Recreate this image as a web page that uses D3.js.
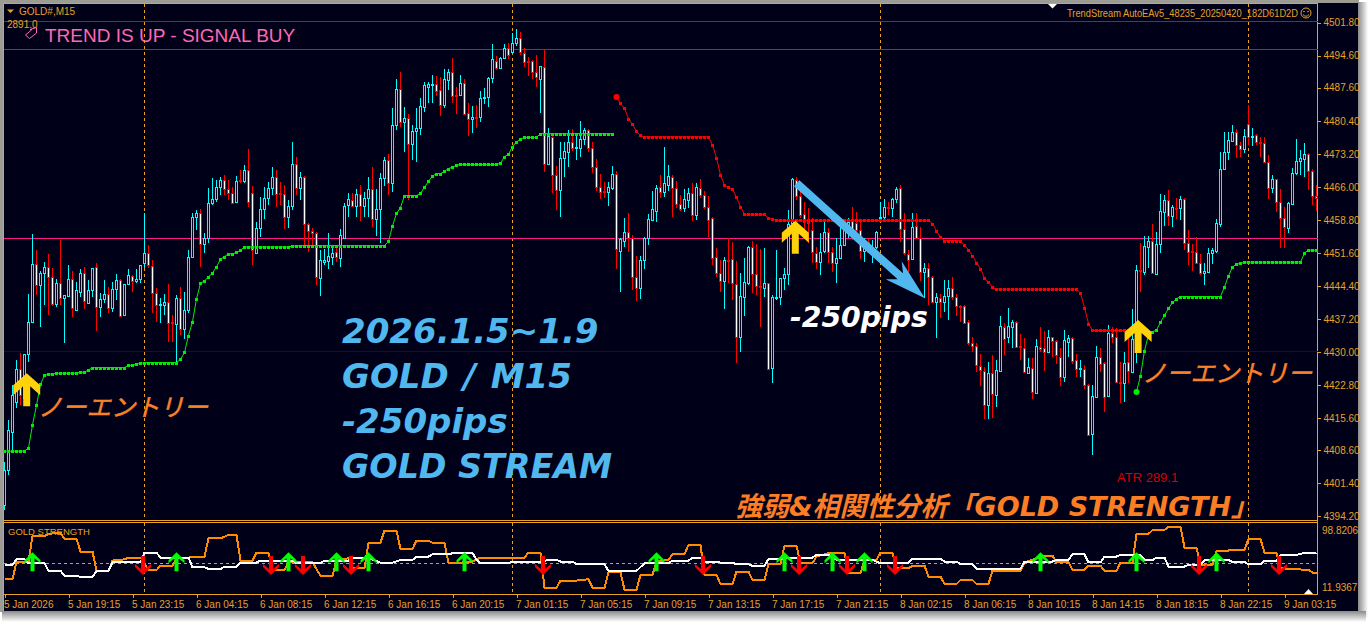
<!DOCTYPE html>
<html>
<head>
<meta charset="utf-8">
<script src="https://cdn.jsdelivr.net/npm/d3@7"></script>
<style>
html, body { margin: 0; padding: 0; background: #fff; overflow: hidden; }
svg { display: block; }
</style>
</head>
<body>
<script>
// candle values, one entry per M15 bar
var opens = [4396.6,4404.3,4412.6,4419.1,4426.3,4420,4429.6,4436.5,4449.2,4444.6,4447.2,4448.5,4446.3,4440.5,4445,4441.8,4442.2,4445.9,4439.2,4443.1,4447.2,4440.7,4443.5,4448.5,4439.8,4441.5,4442.6,4439.6,4443.7,4445.7,4438,4444.8,4446.6,4445.5,4445.9,4449.4,4451.6,4448.7,4442.9,4440.2,4440.2,4440.9,4436.5,4436.1,4441.8,4435,4439.2,4450.7,4459.4,4460.3,4453.5,4454.8,4462.5,4463.4,4466,4467.5,4465.5,4464.7,4462.7,4467.5,4467.3,4469.7,4464.7,4451.6,4457,4461.2,4463.6,4465.8,4468.2,4464.7,4464.5,4459.4,4461.8,4471,4465.8,4468.2,4457.9,4456.4,4455.9,4446.1,4449.6,4449.8,4450.7,4451.8,4450.5,
4454.8,4462,4463.1,4461.8,4464.4,4461.8,4463.6,4465.5,4459,4461.2,
4467.9,4471.8,4466.8,4479.5,4487.3,4480.1,4481,4475.3,4478.2,4478.8,
4483.4,4487.7,4488.2,4488.4,4487.1,4483.8,4489.3,4491,4486,4486,
4488.6,4482.1,4480.8,4481.2,4481.2,4485.4,4485.6,4489.7,4493.4,4491.9,
4494.1,4496.2,4495.4,4497.3,4498.4,4495.2,4493.4,4493.4,4491,4489.5,
4492.1,4470.9,4476.8,4468.6,4465.3,4472.3,4473.6,4475.7,4474.4,4474.4,
4476.4,4478.4,4474.4,4470.3,4465.9,4465.1,4464.8,4465.7,4468.8,4452,
4454.2,4456.1,4454.8,4446.3,4443.9,4450,4454.8,4458.8,4460.7,4465.9,
4464.8,4466.4,4468.1,4465.7,4462.2,4461.4,4463.1,4464.6,4459.8,4465.7,
4464.2,4461.6,4459.2,4450.7,4447.2,4445.4,4450,4450.2,4444.8,4433.2,
4442,4445,4452.9,4447,4444.4,4443.9,4445,4426.5,4441.8,4442,
4446.1,4447,4458.1,4467.5,4464,4460.1,4458.3,4456.6,4451.6,4449.6,
4452,4456.1,4451.8,4449.4,4450.5,4453.3,4456.6,4458.8,4458.1,4456.6,
4452,4453.9,4451.8,4452.9,4459.2,4459.4,4461.6,4461.4,4463.3,4465.7,
4456.8,4451.4,4450.2,4457.4,4454.8,4447.4,4448.3,4446.3,4440.9,4441.8,
4440.9,4442.2,4443.9,4442,4440,4440,4436.5,4431.9,4431.3,4426.9,
4425.8,4418.4,4425.4,4420.6,4425.8,4435.4,4433.3,4435.4,4436.5,4431.3,
4430.8,4425.4,4426.5,4421,4431.1,4430.8,4430,4433.3,4432.4,4428.9,
4424.5,4432.2,4433,4428.2,4426.3,4426.3,4422.8,4412.1,4420.2,4428.9,
4427.6,4420.4,4434.1,4433.3,4423.4,4423.2,4427.8,4425.6,4432.8,4447.9,
4447.4,4452.9,4454.2,4447,4453.5,4460.5,4463.1,4459.6,4461.4,4461.4,
4463.3,4453.7,4452,4451.8,4449.4,4447.2,4447.4,4451.6,4452,4457.9,
4469.9,4473.6,4476,4477.9,4475.1,4474.2,4479.7,4476.8,4477.3,4475.8,
4475.5,4471.4,4465.7,4467.7,4462.7,4459.2,4457,4462.2,4469,4471.6,
4472.1,4473.2,4469.4,4464];
var highs = [4406,4415.1,4422.8,4428.2,4429.7,4429.5,4442.6,4455.7,4452.2,4447.6,4449.6,4451.3,4448.3,4445.9,4454.4,4442.4,4448.9,4447.6,4445.2,4448.1,4448.5,4445.7,4448.3,4449.4,4442.8,4445.7,4444.1,4445.2,4447,4445.9,4444.8,4448.1,4446.8,4448.1,4449,4460.3,4453.3,4450,4443.9,4441.8,4442.6,4444.8,4438,4442.4,4444.2,4443.1,4452.2,4460.3,4460.9,4461.1,4455.9,4465.8,4467.9,4467.5,4468.1,4468.6,4467.5,4465.9,4468.4,4469.7,4470.8,4474.2,4466.2,4458.3,4463.8,4465.9,4467,4470.3,4469.7,4467,4466.4,4463.1,4475.8,4472.5,4469.2,4468.4,4458.1,4457,4456.2,4452.2,4452.4,4455.9,4453.3,4453.1,4456.8,
4462.5,4464.7,4464.7,4465.5,4466.4,4464.9,4468.2,4470.3,4465.5,4469,
4472.5,4473.2,4483.2,4489.5,4491,4483.4,4481.9,4479.5,4483.2,4485.4,
4488.9,4488.9,4490.4,4490.2,4489.9,4491.7,4491.7,4494.1,4487.7,4490.4,
4489.5,4484.3,4483.6,4483.8,4486.9,4487.5,4489.9,4497.1,4494.5,4494.3,
4497.1,4497.3,4499.5,4500.4,4499.7,4496.2,4494.3,4493.6,4494.7,4492.3,
4496,4478.8,4477.7,4470.5,4475.7,4475.7,4478.4,4478.6,4477,4480.3,
4478.8,4478.6,4475.7,4472,4468.8,4467,4467,4470.5,4469.4,4454.8,
4459.2,4460.3,4455.5,4450.9,4450.9,4455,4460,4465.1,4466.4,4468.6,
4474.7,4470.7,4468.6,4467.2,4464.2,4465.5,4465.7,4466.8,4466.8,4467.7,
4465.1,4464,4459.4,4452.6,4450,4450.7,4454.8,4453.9,4449.8,4447.2,
4450.5,4453.1,4454.2,4453.5,4452.4,4452.6,4445,4442.4,4452.2,4446.1,
4448.3,4460.9,4467.9,4468.1,4465.3,4462.7,4461.4,4459.2,4452.9,4455.9,
4458.8,4457,4452.9,4454.8,4457.7,4458.8,4459.2,4461.6,4460.5,4458.8,
4454.8,4454.8,4454.4,4456.3,4462.7,4463.3,4462.7,4463.6,4465.9,4466.4,
4460.3,4452.2,4460.3,4460.3,4457.2,4449.4,4449.4,4446.5,4442.8,4442.6,
4445.7,4445.7,4446.3,4442.6,4440.2,4440.2,4436.9,4433.2,4431.9,4429.5,
4426.7,4427.8,4429.3,4428.2,4437.8,4436.3,4439.6,4436.9,4436.7,4433.9,
4433,4428.7,4428.7,4432.8,4435.4,4434.5,4434.8,4433.3,4432.6,4430.8,
4434.8,4433.7,4433.3,4429.5,4428.2,4427.1,4423,4422.8,4431.3,4430.8,
4427.8,4435.9,4435.4,4435.2,4427.8,4430,4433.7,4439.3,4449,4453.7,
4455.3,4455.3,4457.9,4456.1,4464.4,4464.2,4465.3,4462,4463.5,4464,
4463.5,4456.6,4453.5,4455,4451.3,4449.4,4452.6,4452.6,4459,4473.6,
4477.9,4477.9,4479.4,4478.6,4475.8,4478.6,4483.8,4478.8,4477.5,4476.8,
4476.8,4472.9,4468.6,4467.7,4465.5,4461.6,4462.7,4470.1,4476.4,4474,
4475.5,4473.4,4469.9,4466.4];
var lows = [4395.5,4403.2,4408.6,4417.8,4418.4,4418.8,4427.8,4436.5,4442.4,4435.4,4440.2,4438,4440,4439.8,4440.2,4431.9,4442,4437.6,4438.9,4442,4439.4,4440.7,4442,4434.6,4437.6,4440.7,4438.5,4438.7,4441.3,4437.6,4438,4444.6,4443.1,4445,4445,4448.3,4448.3,4438.5,4436.5,4436.3,4438,4432.2,4432.2,4427.6,4433.7,4432.8,4438.5,4450.5,4456.6,4448.5,4451.6,4453.8,4462,4462.7,4464.2,4464.2,4463.1,4462.3,4462.5,4466.8,4466.8,4461.6,4449,4451.6,4455,4459,4462,4464.2,4461.6,4462,4456.8,4457,4461,4464.2,4463.1,4453.3,4451.8,4452.9,4444.6,4442.2,4448.9,4448.1,4448.9,4449.6,4448.5,
4454.8,4459.4,4461.6,4459.4,4458.5,4459.4,4459.4,4457.2,4455.3,4453.8,
4466.2,4464.2,4464.9,4478.4,4479,4473.6,4463.1,4471.8,4471.4,4477.3,
4482.3,4484.3,4484.3,4485.8,4481.4,4483.2,4487.1,4484.3,4481.9,4485.8,
4481.6,4477.1,4477.7,4478.8,4480.1,4484,4483.4,4488.6,4491.4,4491.7,
4493.8,4493.8,4495.4,4496.7,4494.7,4492.1,4490.1,4489.5,4487.7,4482.1,
4469.2,4470.7,4464.6,4460.9,4459.4,4468.1,4470.3,4473.8,4471.8,4472.5,
4475.1,4473.6,4469,4465.1,4463.3,4463.5,4461.8,4465.3,4448.1,4443.1,
4452.9,4451.8,4443.5,4441.1,4441.5,4448.1,4453.3,4458.5,4458.3,4463.5,
4463.8,4465.1,4459.4,4461.4,4460.7,4460.5,4461.4,4458.5,4458.8,4463.6,
4461.1,4455,4449,4446.3,4443.1,4439.3,4445,4441.3,4427.6,4430,
4437.8,4444.6,4442.8,4442.4,4435.4,4442,4426.3,4423.2,4441.3,4440.2,
4443.5,4444.6,4456.6,4463.1,4459.2,4456.1,4453.8,4449.4,4448.1,4446.8,
4451.6,4449.4,4447.4,4445,4450.2,4453.1,4454.8,4454.4,4455,4450.2,
4449.6,4451.6,4449.4,4452.4,4458.3,4458.8,4459.8,4459.4,4462.4,4454,
4451.1,4445.2,4450,4454.8,4445.4,4441.7,4440.2,4440.6,4433,4437.4,
4438.7,4437,4441.3,4437.8,4436.5,4436.3,4431.5,4430,4425.6,4422.6,
4415.4,4415.4,4415.6,4418,4425.8,4429.3,4431.9,4430.8,4430.8,4428.2,
4425.4,4425.2,4419.7,4420.8,4430,4425.8,4429.8,4428.9,4427.4,4422.6,
4423.4,4428.9,4427.4,4424.5,4424.5,4421.9,4411.7,4407.5,4420.2,4425.6,
4416.9,4420.2,4431.9,4423.2,4418.8,4419,4423.2,4425.4,4427.6,4443.1,
4446.8,4448.3,4447,4446.8,4451.6,4457.4,4457.4,4457.2,4459,4458.8,
4452.2,4448.9,4447.6,4449.2,4446.8,4444.6,4447.4,4449.2,4451.6,4457.2,
4469.6,4471.8,4476,4472.3,4472.5,4473.3,4475.1,4474.9,4475.1,4472.5,
4471.4,4463.3,4464.6,4460.5,4452.7,4452.7,4455.9,4462,4468.6,4468.6,
4468.1,4465.3,4462,4460.7];
var closes = [4404.3,4413,4420.6,4426.3,4420.6,4429.6,4436.5,4449.2,4444.6,4447.2,4448.5,4446.3,4440.5,4445,4441.8,4442.4,4445.9,4439.6,4443.5,4447.2,4441.1,4443.5,4448.3,4439.8,4441.5,4442.6,4439.6,4443.7,4445.7,4437.8,4444.8,4446.8,4445.5,4445.9,4449,4451.6,4449,4442.9,4440.2,4440.5,4440.9,4436.3,4436.3,4441.8,4435,4439.2,4450.7,4459.4,4460.3,4453.5,4454.8,4462.5,4463.4,4466,4467.5,4465.5,4464.7,4462.5,4467.3,4467.3,4469.7,4462.7,4452.2,4457,4461.2,4463.6,4465.8,4468.2,4464.5,4464.6,4459.4,4461.8,4471,4465.8,4468.2,4457.9,4456.4,4455.9,4446.3,4450,4450,4450.9,4451.6,4450.7,4455.5,
4461.8,4463.3,4461.8,4464.4,4461.8,4463.6,4465.5,4459,4461.2,4467.9,
4471.8,4466.8,4479.5,4487.3,4480.1,4481,4475.3,4478.2,4478.8,4483.6,
4488.2,4488.4,4488.4,4486.9,4483.8,4489.5,4491,4485.8,4485.8,4488.6,
4481.9,4480.8,4481.2,4481,4485.4,4485.6,4489.7,4493.8,4491.9,4494.1,
4496.2,4494.7,4497.3,4498.4,4495.4,4493.2,4493.2,4491,4489.9,4492.3,
4470.9,4477.1,4468.6,4465.3,4472.3,4473.8,4475.7,4474.4,4474.6,4476.4,
4478.4,4474.4,4470.3,4465.9,4464.8,4464.8,4465.9,4468.8,4452.4,4454.6,
4456.1,4454.8,4446.3,4443.9,4450,4454.8,4459,4461.2,4465.7,4464.8,
4466.8,4468.3,4465.7,4462.2,4461.1,4463.3,4464.6,4459.8,4465.9,4464.2,
4461.6,4458.8,4450.5,4447.2,4445.4,4450,4449.8,4445,4433.2,4442.2,
4445.2,4452.9,4447,4444.4,4444.1,4445,4426.3,4442,4442,4446.1,
4447,4457.9,4467.7,4464,4459.9,4458.3,4458.1,4451.8,4449.6,4451.8,
4456.1,4451.8,4449.4,4450.5,4453.3,4456.6,4458.3,4456.8,4456.6,4452,
4452.6,4451.8,4452.9,4456.1,4459.4,4461.6,4461.4,4463.3,4465.5,4456.8,
4451.6,4450.2,4457.2,4454.8,4447.4,4448.3,4446.3,4440.9,4442,4440.9,
4442.2,4443.9,4442,4440,4439.8,4436.3,4431.9,4431.3,4427.1,4426,
4418.4,4425.4,4420.8,4426,4435.7,4432.8,4435.7,4436.5,4431.1,4431.1,
4425.6,4426.7,4421.2,4431.3,4430.6,4430,4433.3,4432.4,4429.3,4424.5,
4432.6,4433,4428,4426.3,4426.5,4422.8,4411.9,4420.4,4428.9,4427.4,
4420.2,4434.1,4433.3,4423.4,4423.2,4427.6,4425.8,4432.8,4447.9,4447.7,
4453.1,4454.2,4447.2,4453.5,4460.7,4463.1,4459.6,4461.6,4461.2,4463.3,
4453.7,4451.8,4451.8,4449.4,4447.2,4447.6,4451.6,4452.2,4458.1,4469.9,
4473.6,4476.2,4477.9,4475.1,4474.2,4477.1,4476.8,4477.1,4475.8,4475.5,
4471.4,4465.7,4467.7,4462.7,4459.2,4457.2,4462.4,4469,4471.6,4472.3,
4473.2,4469.4,4464,4463.5];

// trend stop dots
var greenStopA = [4408.4,4408.4,4408.4,4408.4,4408.4,4408.4,4409.1,4414.1,4418.4,4423,4424.9,4425.2,4425.2,4425.4,4425.4,4425.4,4425.4,4425.4,4425.4,4425.6,4425.6,4426.1,4426.6,4426.6,4426.6,4426.6,4426.6,4426.6,4426.6,4426.6,4426.6,4427.1,4427.1,4427.4,4427.5,4427.7,4427.7,4427.7,4427.7,4427.7,4427.7,4427.7,4427.7,4427.7,4428.4,4429.9,4433.6,4436.6,4441.6,4445,4445.5,4446.4,4447.2,4448.6,4450.2,4450.8,4451.4,4451.4,4451.7,4452.2,4452.9,4452.9,4452.9,4452.9,4452.9,4452.9,4452.9,4452.9,4452.9,4452.9,4452.9,4452.9,4453.1,4453.1,4453.2,4453.2,4453.2,4453.2,4453.2,4453.2,4453.2,4453.2,4453.2,4453.2,4453.2,4453.2,4453.2,4453.2,4453.2,4453.2,4453.2,4453.2,4453.2,4453.2,4453.2,4453.2,4454.1,4457.5,4460.2,4461.5,4464.1,4464.1,4464.1,4464.1,4464.6,4465.9,4467.2,4468.4,4468.9,4468.9,4469.4,4470,4470.3,4470.7,4470.9,4470.9,4470.9,4470.9,4470.9,4470.9,4470.9,4470.9,4470.9,4470.9,4471.1,4472.6,4473.1,4474.8,4475.8,4476.4,4476.8,4476.8,4476.8,4476.8,4477.6,4477.6,4477.6,4477.6,4477.6,4477.6,4477.6,4477.6,4477.6,4477.6,4477.6,4477.6,4477.6,4477.6,4477.6,4477.6,4477.6,4477.6,4477.6];
var greenStopAStart = 0;
var redStop = [4485.6,4484.2,4483.1,4480.9,4479.6,4478.1,4477.2,4476.9,4476.9,4476.9,4476.9,4476.9,4476.9,4476.9,4476.9,4476.9,4476.9,4476.9,4476.9,4476.9,4476.9,4476.9,4476.9,4476.9,4475.1,4472.3,4468.6,4466.4,4465.9,4465.5,4463.7,4461.7,4460,4460,4460,4460,4460,4460,4459.2,4458.9,4458.7,4458.7,4458.7,4458.7,4458.7,4458.7,4458.7,4458.7,4458.7,4458.7,4458.7,4458.7,4458.7,4458.7,4458.7,4458.7,4458.7,4458.7,4458.7,4458.7,4458.7,4458.7,4458.7,4458.7,4458.7,4458.7,4458.7,4458.7,4458.7,4458.7,4458.7,4458.7,4458.7,4458.7,4458.7,4458.7,4458.7,4458.7,4458.7,4458,4456.4,4455,4454.3,4454.3,4454.3,4454.3,4454.2,4453.3,4452.2,4451,4449.5,4448.2,4446.1,4445.2,4444.1,4443.7,4443.7,4443.7,4443.7,4443.7,4443.7,4443.7,4443.7,4443.7,4443.7,4443.7,4443.7,4443.7,4443.7,4443.7,4443.7,4443.7,4443.7,4443.7,4443.7,4443.7,4442.8,4439.7,4436.2,4434.7,4434.7,4434.7,4434.7,4434.7,4434.7,4434.7,4434.7,4434.7,4434.7];
var redStopStart = 153;
var greenStopB = [4421.3,4424.8,4430.3,4433.7,4434.4,4434.8,4436.5,4438,4439.5,4440.8,4441.6,4442.1,4442.1,4442.1,4442.1,4442.1,4442.1,4442.1,4442.1,4442.1,4442.1,4442.1,4444.2,4446.6,4448.5,4449.2,4449.3,4449.6,4449.6,4449.6,4449.6,4449.6,4449.6,4449.6,4449.6,4449.6,4449.6,4449.6,4449.6,4449.6,4449.6,4449.6,4451.6,4452.2,4452.2,4452.2];
var greenStopBStart = 283;

// horizontal levels on the price pane
var levelPrices = [4502.16, 4496.06, 4454.86, 4430.22];
var levelColors = ["#e00000", "#0b7a0b", "#ff1a8c", "#0000c0"];
var separatorBars = [35, 127, 219, 311];

// buy arrows on the chart (bar, price of the tip) and the blue move arrow
var buyBars = [5.55, 197.7, 283.4];
var buyPrices = [4425.4, 4458.6, 4437];
var moveBars = [198.05, 230.1];
var movePrices = [4466.8, 4441.7];

// price axis labels
var priceTicks = [4501.8,4494.6,4487.6,4480.4,4473.2,4466,4458.8,4451.6,4444.4,4437.2,4430,4422.8,4415.6,4408.6,4401.4,4394.2];

// time axis
var timeBars = [0,16,32,48,64,80,96,112,128,144,160,176,192,208,224,240,256,272,288,304,320];
var timeLabels = ["5 Jan 2026","5 Jan 19:15","5 Jan 23:15","6 Jan 04:15","6 Jan 08:15","6 Jan 12:15","6 Jan 16:15","6 Jan 20:15","7 Jan 01:15","7 Jan 05:15","7 Jan 09:15","7 Jan 13:15","7 Jan 17:15","7 Jan 21:15","8 Jan 02:15","8 Jan 06:15","8 Jan 10:15","8 Jan 14:15","8 Jan 18:15","8 Jan 22:15","9 Jan 03:15"];

// GOLD STRENGTH pane, change points of the two lines
var orangeBars = [0,2,3,6,7,10,11,14,15,18,19,22,23,26,27,30,31,34,36,38,39,42,43,50,51,54,56,58,59,62,63,66,67,70,71,77,79,82,83,86,87,90,91,94,95,98,99,102,103,106,107,110,111,114,117,119,130,131,134,135,138,139,143,146,147,150,151,154,155,158,159,162,163,166,167,170,171,174,175,178,179,182,183,186,187,190,191,194,195,198,199,202,203,206,210,211,214,215,218,219,222,223,226,227,229,230,231,234,235,238,239,242,243,246,247,254,255,260,262,263,266,267,270,271,274,275,278,279,282,283,286,287,290,291,294,295,298,299,302,303,310,311,314,315,318,319,326,327,328];
var orangeValues = [30.6,30.6,51.3,51.3,84,84,86.5,88.1,80.3,80.3,64.6,64.6,40.6,40.6,53.4,55,57.1,57.1,41.8,41.8,46.8,46.8,56.3,58.4,81.1,81.1,85.2,85.2,53.4,53.4,63.3,63.3,41.8,41.8,51.3,51.3,34.4,34.4,54.2,56.3,43.9,43.9,75.7,75.7,90.6,90.6,67.9,67.9,78.2,78.2,75.7,75.7,50.9,50.9,52.2,57.1,57.1,63.3,63.3,19.9,19.9,28.6,28.6,30.2,19.9,19.9,38.9,38.9,17,17,35.6,35.6,52.2,54.2,61.3,61.3,72.8,72.8,35.6,35.6,24.4,24.4,39.7,39.7,29.4,29.4,49.3,49.3,71.6,71.6,50.1,50.1,58.4,62.5,62.5,37.7,37.7,54.2,54.2,63.3,63.3,43.9,43.9,46.8,46.8,47.2,33.5,33.5,24.4,24.4,29.4,29.4,24.4,24.4,41,41,51.3,59.6,59.6,51.3,51.3,41.8,41.8,47.2,47.2,40.6,40.6,50.9,50.9,86.5,86.5,91.4,91.4,95.6,95.6,69.5,69.5,48,48,65.4,66.6,80.3,80.3,63.3,63.3,43.9,41.8,38.5,38.5];
var whiteBars = [0,2,3,5,6,10,11,14,15,18,19,22,23,26,27,34,35,38,39,46,47,50,51,54,55,58,59,63,64,72,73,79,80,86,87,91,94,97,99,102,103,106,107,111,112,117,118,119,126,127,134,136,138,139,142,143,150,151,158,160,166,167,171,172,174,175,178,179,182,183,186,187,190,191,194,196,202,203,206,208,217,219,222,223,226,227,234,235,238,239,242,243,254,255,262,263,266,267,270,271,274,275,278,279,284,285,287,288,290,291,295,296,299,300,306,307,310,311,314,315,318,319,323,324,328];
var whiteValues = [48,48,55.5,55.5,50.1,50.1,41,41,34.4,34.4,33.1,33.1,40.6,40.6,51.3,51.3,63.3,63.3,57.1,57.1,45.1,45.1,43,43,46,46,50.9,50.9,53.4,53.4,50.1,50.1,53.4,53.4,56.3,56.3,50.9,50.9,54.2,54.2,58.4,58.4,61.3,61.3,62.5,62.5,55,50.1,50.1,52.2,52.2,54.2,54.2,52.2,52.2,48.8,48.8,40.6,40.6,50.1,50.1,53.4,53.4,57.1,57.1,52.2,52.2,50.9,50.9,48.8,48.8,46.8,46.8,55.5,55.5,57.1,57.1,60.4,60.4,54.2,54.2,50.1,50.1,50.9,50.9,55.5,55.5,52.2,52.2,48.8,48.8,43,43,52.2,52.2,54.2,54.2,61.3,61.3,51.3,51.3,58.4,58.4,60.4,60.4,54.2,54.2,57.1,57.1,46,46,48,48,54.2,54.2,51.8,51.8,48.8,48.8,53.4,53.4,60.4,60.4,62.1,63.3];
var strengthMiddle = 50;
var strengthTicks = [98.8206, 11.9367];

// signal arrows in the strength pane
var upSignalBars = [7,43,71,83,91,115,163,195,207,215,259,283,303];
var downSignalBars = [35,67,75,87,135,175,199,211,223,299,319];
var upSignalLevel = 63.8;
var downSignalLevel = 35.6;

// Width and height
var w = 1368, h = 622;
var paneLeft = 4, paneRight = 1317.5, paneBottom = 611, frameRight = 1358;
var border = "#e6a326";

var x = d3.scaleLinear().domain([0, 328]).range([4.5, 1316.5]);
var y = d3.scaleLinear().domain([4394.04, 4501.94]).range([517, 22]);
var ys = d3.scaleLinear().domain([11.9367, 98.8206]).range([594, 524]);

var svg = d3.select("body").append("svg").attr("width", w).attr("height", h);

// window frame and drop shadow
var defs = svg.append("defs");
var gr = defs.append("linearGradient").attr("id", "shadowR");
gr.append("stop").attr("offset", "0").attr("stop-color", "#8a8a8a");
gr.append("stop").attr("offset", "1").attr("stop-color", "#ffffff");
var gb = defs.append("linearGradient").attr("id", "shadowB").attr("x2", 0).attr("y2", 1);
gb.append("stop").attr("offset", "0").attr("stop-color", "#8a8a8a");
gb.append("stop").attr("offset", "1").attr("stop-color", "#ffffff");

svg.append("rect").attr("x", 0).attr("y", 0).attr("width", frameRight + 1).attr("height", paneBottom + 1).attr("fill", "#9c9c94");
svg.append("rect").attr("x", frameRight).attr("y", 2).attr("width", w - frameRight).attr("height", paneBottom + 4).attr("fill", "url(#shadowR)");
svg.append("rect").attr("x", 2).attr("y", paneBottom).attr("width", frameRight + 6).attr("height", h - paneBottom).attr("fill", "url(#shadowB)");
svg.append("rect").attr("x", 3).attr("y", 3).attr("width", frameRight - 3).attr("height", paneBottom - 3).attr("fill", "#000018");

var crisp = svg.append("g").attr("shape-rendering", "crispEdges");

// borders
crisp.append("path").attr("fill", "none").attr("stroke", border)
    .attr("d", "M3.5,611V3.5H1317.5V594.5H3.5 M3.5,520.5H1317.5 M3.5,522.5H1317.5");

// period separators, both panes
crisp.selectAll(".sep1").data(separatorBars).enter().append("line")
    .attr("x1", d => x(d)).attr("x2", d => x(d)).attr("y1", 4).attr("y2", 520)
    .attr("stroke", border).attr("stroke-dasharray", "3,3");
crisp.selectAll(".sep2").data(separatorBars).enter().append("line")
    .attr("x1", d => x(d)).attr("x2", d => x(d)).attr("y1", 523).attr("y2", 594)
    .attr("stroke", border).attr("stroke-dasharray", "3,3");

// levels
var snap = v => Math.round(v) + 0.5;
crisp.selectAll(".lvl").data(levelPrices).enter().append("line")
    .attr("x1", paneLeft).attr("x2", paneRight)
    .attr("y1", d => snap(y(d))).attr("y2", d => snap(y(d)))
    .attr("stroke", (d, i) => levelColors[i]);

// candles
var bars = d3.range(opens.length);
var upColor = "#00ffff", downColor = "#ff0000";

crisp.selectAll(".wick").data(bars).enter().append("line")
    .attr("x1", i => x(i)).attr("x2", i => x(i))
    .attr("y1", i => y(highs[i])).attr("y2", i => y(lows[i]))
    .attr("stroke", i => closes[i] >= opens[i] ? upColor : downColor);

crisp.selectAll(".body").data(bars).enter().append("rect")
    .attr("x", i => x(i) - 1)
    .attr("width", 2)
    .attr("y", i => snap(y(Math.max(opens[i], closes[i]))))
    .attr("height", i => Math.max(1, Math.round(y(Math.min(opens[i], closes[i])) - y(Math.max(opens[i], closes[i])))))
    .attr("fill", i => closes[i] >= opens[i] ? "#000018" : "#ffffff")
    .attr("stroke", i => closes[i] >= opens[i] ? upColor : downColor);

// trend stops
function drawStops(values, start, color) {
    var line = d3.line().x((d, i) => x(start + i)).y(d => y(d));
    svg.append("path").attr("d", line(values)).attr("fill", "none").attr("stroke", color).attr("stroke-width", 1);
    svg.append("g").attr("shape-rendering", "crispEdges").selectAll("rect").data(values).enter().append("rect")
        .attr("x", (d, i) => x(start + i) - 1.5).attr("y", d => Math.round(y(d)) - 1)
        .attr("width", 3).attr("height", 3).attr("fill", color);
    if (start > 0) svg.append("circle").attr("cx", x(start)).attr("cy", y(values[0])).attr("r", 3).attr("fill", color);
}
drawStops(greenStopA, greenStopAStart, "#00ee00");
drawStops(redStop, redStopStart, "#ff0000");
drawStops(greenStopB, greenStopBStart, "#00ee00");

// buy arrows, same shape each time
var arrowShape = "M0,0L13.5,12V22L3.5,13V33H-3.5V13L-13.5,22V12Z";
svg.selectAll(".buy").data(buyBars).enter().append("path")
    .attr("transform", (d, i) => "translate(" + x(d) + "," + y(buyPrices[i]) + ")")
    .attr("d", arrowShape).attr("fill", "#ffd20a");

// blue move arrow
var ax = x(moveBars[0]), ay = y(movePrices[0]), bx = x(moveBars[1]), by = y(movePrices[1]);
var ang = Math.atan2(by - ay, bx - ax) * 180 / Math.PI;
var len = Math.hypot(bx - ax, by - ay);
svg.append("path")
    .attr("transform", "translate(" + ax + "," + ay + ") rotate(" + ang + ")")
    .attr("d", "M0,-4L" + (len - 33) + ",-4L" + (len - 42) + ",-12L" + len + ",0L" + (len - 42) + ",12L" + (len - 33) + ",4L0,4Z")
    .attr("fill", "#50b8ee");

// price axis
var axisFont = "'Liberation Sans', Arial, sans-serif";
var yAxis = svg.append("g").attr("transform", "translate(1317.5,0)")
    .call(d3.axisRight(y).tickValues(priceTicks).tickFormat(d3.format(".2f")).tickSize(3).tickPadding(3));
yAxis.select(".domain").remove();
yAxis.selectAll("line").attr("stroke", border).attr("shape-rendering", "crispEdges");
yAxis.selectAll("text").attr("fill", border).style("font-family", axisFont).style("font-size", "10px");

// time axis
var xAxis = svg.append("g").attr("transform", "translate(0,594.5)")
    .call(d3.axisBottom(x).tickValues(timeBars).tickFormat((d, i) => timeLabels[i]).tickSize(3).tickPadding(3));
xAxis.select(".domain").remove();
xAxis.selectAll("line").attr("stroke", border).attr("shape-rendering", "crispEdges");
xAxis.selectAll("text").attr("fill", border).attr("text-anchor", "start").attr("dx", -1)
    .style("font-family", axisFont).style("font-size", "10px");

// strength pane
crisp.append("line").attr("x1", paneLeft).attr("x2", paneRight)
    .attr("y1", snap(ys(strengthMiddle))).attr("y2", snap(ys(strengthMiddle)))
    .attr("stroke", "#20d8e8").attr("stroke-dasharray", "3,3");

var sline = d3.line().x(d => x(d[0])).y(d => ys(d[1]));
svg.append("path").datum(d3.zip(orangeBars, orangeValues)).attr("d", sline)
    .attr("fill", "none").attr("stroke", "#ff8c00").attr("stroke-width", 2).attr("shape-rendering", "crispEdges");
svg.append("path").datum(d3.zip(whiteBars, whiteValues)).attr("d", sline)
    .attr("fill", "none").attr("stroke", "#ffffff").attr("stroke-width", 2).attr("shape-rendering", "crispEdges");

svg.selectAll(".up").data(upSignalBars).enter().append("path")
    .attr("transform", d => "translate(" + x(d) + "," + ys(upSignalLevel) + ")")
    .attr("d", "M0,0L8,8V11L2,6V19H-2V6L-8,11V8Z").attr("fill", "#00ff00");
svg.selectAll(".down").data(downSignalBars).enter().append("path")
    .attr("transform", d => "translate(" + (x(d) - 1.5) + "," + ys(downSignalLevel) + ")")
    .attr("d", "M0,0L8,-8V-11L2,-6V-19H-2V-6L-8,-11V-8Z").attr("fill", "#ff0000");

// strength axis labels
svg.selectAll(".stick").data(strengthTicks).enter().append("text")
    .attr("x", 1322).attr("y", (d, i) => i === 0 ? 534 : 591)
    .attr("fill", border).style("font-family", axisFont).style("font-size", "10px")
    .text(d => d.toFixed(4));

function label(tx, ty, txt, color, size, family, extra) {
    var t = svg.append("text").attr("x", tx).attr("y", ty).attr("fill", color)
        .style("font-family", family).style("font-size", size + "px").text(txt);
    if (extra) extra(t);
    return t;
}
var heavy = t => t.style("font-weight", "bold").style("font-style", "italic");
var oblique = t => t.style("font-style", "italic").attr("stroke", "#fb8128").attr("stroke-width", 0.5);
var jp = "'Noto Sans CJK JP', sans-serif";
var dj = "'DejaVu Sans', 'Noto Sans CJK JP', sans-serif";

// chart header
svg.append("path").attr("d", "M7,9.5H14L10.5,13Z").attr("fill", border);
label(19, 15, "GOLD#,M15", border, 10, axisFont);
label(7, 28, "2891.0", border, 10, axisFont);
label(45, 42, "TREND IS UP - SIGNAL BUY", "#ff69b4", 19, axisFont);
svg.append("path").attr("d", "M36.5,27.5V33L29.5,38.5L25.5,35L32,29.5H30Z").attr("fill", "none").attr("stroke", "#ff69b4");
label(1067, 17, "TrendStream AutoEAv5_48235_20250420_182D61D2D", border, 10, axisFont)
    .attr("textLength", 231).attr("lengthAdjust", "spacingAndGlyphs");
svg.append("circle").attr("cx", 1306).attr("cy", 13).attr("r", 5).attr("fill", "none").attr("stroke", border);
svg.append("circle").attr("cx", 1304).attr("cy", 11.5).attr("r", 0.8).attr("fill", border);
svg.append("circle").attr("cx", 1308).attr("cy", 11.5).attr("r", 0.8).attr("fill", border);
svg.append("path").attr("d", "M1303,14.5Q1306,18 1309,14.5").attr("fill", "none").attr("stroke", border);
svg.append("path").attr("d", "M1048,4H1057L1052.5,8.5Z").attr("fill", "#fff");
svg.append("path").attr("d", "M1304,594H1313L1308.5,589Z").attr("fill", "#fff");
label(8, 535, "GOLD STRENGTH", border, 9.5, axisFont);

// annotations
label(1117, 482, "ATR 289.1", "#d40000", 13, axisFont);
label(342, 343, "2026.1.5~1.9", "#50b8ee", 34, dj, heavy);
label(342, 388, "GOLD / M15", "#50b8ee", 34, dj, heavy).style("word-spacing", "3px");
label(342, 433, "-250pips", "#50b8ee", 34, dj, heavy);
label(342, 478, "GOLD STREAM", "#50b8ee", 33.3, dj, heavy);
label(790, 327, "-250pips", "#ffffff", 28.3, dj, heavy);
label(38, 416, "ノーエントリー", "#fb8128", 24.3, jp, oblique);
label(1142, 382, "ノーエントリー", "#fb8128", 24.3, jp, oblique);
label(735, 516, "強弱&相関性分析「GOLD STRENGTH」", "#fb7d24", 27, dj, heavy);
</script>
</body>
</html>
